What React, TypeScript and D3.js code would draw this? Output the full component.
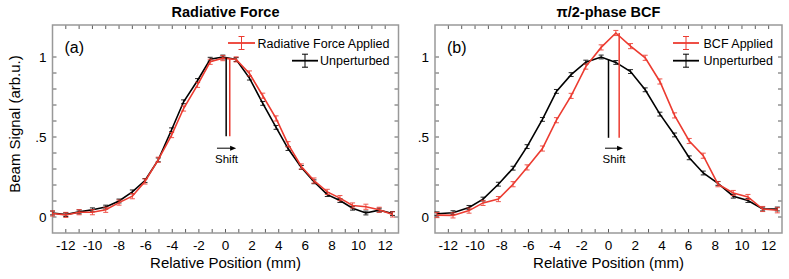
import * as d3 from "d3";

// panel (a): radiative force
const posA = [-13, -12, -11, -10, -9, -8, -7, -6.05, -5.05, -4.05, -3.15, -2.1, -1.15, -0.2, 0.8, 1.8, 2.8, 3.8, 4.7, 5.7, 6.65, 7.65, 8.6, 9.55, 10.55, 11.55, 12.55];
const unpertA = [0.025, 0.015, 0.032, 0.045, 0.062, 0.1, 0.157, 0.228, 0.357, 0.545, 0.72, 0.853, 0.986, 1.0, 0.984, 0.868, 0.71, 0.56, 0.428, 0.31, 0.22, 0.14, 0.103, 0.055, 0.025, 0.043, 0.022];
const appliedA = [0.022, 0.013, 0.03, 0.03, 0.045, 0.09, 0.13, 0.222, 0.358, 0.512, 0.678, 0.826, 0.97, 0.993, 0.985, 0.897, 0.758, 0.616, 0.455, 0.316, 0.228, 0.157, 0.118, 0.072, 0.064, 0.045, 0.016];

// panel (b): pi/2-phase BCF
const posB = [-12.85, -11.65, -10.45, -9.4, -8.25, -7.15, -6.1, -4.95, -3.9, -2.8, -1.7, -0.55, 0.55, 1.65, 2.75, 3.85, 4.95, 6.05, 7.1, 8.2, 9.35, 10.45, 11.55, 12.65];
const unpertB = [0.02, 0.027, 0.06, 0.112, 0.205, 0.305, 0.44, 0.61, 0.785, 0.89, 0.968, 1.0, 0.966, 0.909, 0.795, 0.643, 0.513, 0.37, 0.275, 0.21, 0.13, 0.103, 0.05, 0.05];
const appliedB = [0.012, 0.01, 0.04, 0.088, 0.112, 0.205, 0.31, 0.428, 0.605, 0.757, 0.94, 1.06, 1.15, 1.068, 0.995, 0.847, 0.635, 0.475, 0.383, 0.205, 0.15, 0.125, 0.05, 0.042];

const errUnpert = 0.012;
const errApplied = 0.016;

// centre markers: [x, yTop, yBottom]
const centreA = {black: [0.05, 0.995, 0.505], red: [0.32, 0.99, 0.505]};
const centreB = {black: [0, 0.985, 0.495], red: [0.8, 1.15, 0.495]};
const arrowA = [-0.64, 0.8, 0.43];
const arrowB = [-0.26, 1.09, 0.43];

const xTickLabels = [-12, -10, -8, -6, -4, -2, 0, 2, 4, 6, 8, 10, 12];
const yTickLabels = [{v: 0, t: "0"}, {v: 0.5, t: ".5"}, {v: 1, t: "1"}];

const RED = "#ec3b30";
const FONT = "'Liberation Sans', Arial, sans-serif";

function Panel({left, right, title, tag, appliedLabel, pos, unpert, applied, centre, arrow}) {
    const top = 25, bottom = 233;
    const x = d3.scaleLinear().domain([-13, 13]).range([left, right]);
    const y = d3.scaleLinear().domain([-0.1, 1.2]).range([bottom, top]);
    const line = d3.line().x(d => x(d[0])).y(d => y(d[1]));
    const minor = d3.range(-12, 13, 1);
    const yMinor = d3.range(1, 12).map(i => i / 10 - 0.1).filter(v => v > -0.1 && v < 1.2);
    const cx = (left + right) / 2;

    const series = (vals, color, err, key) => (
        <g key={key}>
            <path d={line(pos.map((p, i) => [p, vals[i]]))} fill="none" stroke={color} strokeWidth={1.6}/>
            {pos.map((p, i) => (
                <g key={i} stroke={color} strokeWidth={1} opacity={0.85}>
                    <line x1={x(p)} x2={x(p)} y1={y(vals[i] - err)} y2={y(vals[i] + err)}/>
                    <line x1={x(p) - 2.5} x2={x(p) + 2.5} y1={y(vals[i] - err)} y2={y(vals[i] - err)}/>
                    <line x1={x(p) - 2.5} x2={x(p) + 2.5} y1={y(vals[i] + err)} y2={y(vals[i] + err)}/>
                </g>
            ))}
        </g>
    );

    const legendItem = (ly, color, label) => {
        const lx = right - 10;
        return (
            <g>
                <text x={lx} y={ly + 5} textAnchor="end" fontSize={12.5}>{label}</text>
            </g>
        );
    };

    return (
        <g fontFamily={FONT}>
            <text x={cx} y={17} textAnchor="middle" fontSize={14.5} fontWeight="bold">{title}</text>
            {/* ticks */}
            <g stroke="#333" strokeWidth={0.8}>
                {minor.map(t => <line key={"b" + t} x1={x(t)} x2={x(t)} y1={bottom} y2={bottom - 4}/>)}
                {minor.map(t => <line key={"t" + t} x1={x(t)} x2={x(t)} y1={top} y2={top + 4}/>)}
                {yMinor.map(v => <line key={"l" + v} x1={left} x2={left + 4} y1={y(v)} y2={y(v)}/>)}
                {yMinor.map(v => <line key={"r" + v} x1={right} x2={right - 4} y1={y(v)} y2={y(v)}/>)}
            </g>
            <rect x={left} y={top} width={right - left} height={bottom - top} fill="none" stroke="#999" strokeWidth={1.5}/>
            {xTickLabels.map(t => (
                <text key={t} x={x(t)} y={250} textAnchor="middle" fontSize={13.5}>{t < 0 ? "-" + Math.abs(t) : t}</text>
            ))}
            {yTickLabels.map(d => (
                <text key={d.t} x={left - 6} y={y(d.v) + 5} textAnchor="end" fontSize={13.5}>{d.t}</text>
            ))}
            <text x={cx} y={268} textAnchor="middle" fontSize={15}>Relative Position (mm)</text>
            <text x={left + 12} y={53} fontSize={16}>{tag}</text>

            {series(unpert, "#000", errUnpert, "u")}
            {series(applied, RED, errApplied, "a")}

            <line x1={x(centre.black[0])} x2={x(centre.black[0])} y1={y(centre.black[1])} y2={y(centre.black[2])} stroke="#000" strokeWidth={1.5}/>
            <line x1={x(centre.red[0])} x2={x(centre.red[0])} y1={y(centre.red[1])} y2={y(centre.red[2])} stroke={RED} strokeWidth={1.5}/>

            <line x1={x(arrow[0])} x2={x(arrow[1]) - 4} y1={y(arrow[2])} y2={y(arrow[2])} stroke="#000" strokeWidth={1}/>
            <polygon points={`${x(arrow[1])},${y(arrow[2])} ${x(arrow[1]) - 6},${y(arrow[2]) - 2.5} ${x(arrow[1]) - 6},${y(arrow[2]) + 2.5}`} fill="#000"/>
            <text x={(x(arrow[0]) + x(arrow[1])) / 2} y={163} textAnchor="middle" fontSize={11.5}>Shift</text>

            {/* legend */}
            {[{ly: 43, color: RED, label: appliedLabel}, {ly: 60.7, color: "#000", label: "Unperturbed"}].map((it, k) => {
                const tx = right - 9;
                const w = it.label.length;
                return (
                    <g key={k}>
                        <text x={tx} y={it.ly + 4.5} textAnchor="end" fontSize={12.5}>{it.label}</text>
                    </g>
                );
            })}
        </g>
    );
}

function LegendLines({x0, x1, color, ly}) {
    const m = (x0 + x1) / 2;
    return (
        <g stroke={color}>
            <line x1={x0} x2={x1} y1={ly} y2={ly} strokeWidth={1.8}/>
            <line x1={m} x2={m} y1={ly - 6.5} y2={ly + 6.5} strokeWidth={1}/>
            <line x1={m - 3} x2={m + 3} y1={ly - 6.5} y2={ly - 6.5} strokeWidth={1}/>
            <line x1={m - 3} x2={m + 3} y1={ly + 6.5} y2={ly + 6.5} strokeWidth={1}/>
        </g>
    );
}

export default function App() {
    return (
        <svg width={789} height={279} style={{position: "absolute", left: 0, top: 0, background: "#fff"}}>
            <Panel left={52.5} right={398.5} title="Radiative Force" tag="(a)" appliedLabel="Radiative Force Applied"
                   pos={posA} unpert={unpertA} applied={appliedA} centre={centreA} arrow={arrowA}/>
            <Panel left={435} right={782} title="π/2-phase BCF" tag="(b)" appliedLabel="BCF Applied"
                   pos={posB} unpert={unpertB} applied={appliedB} centre={centreB} arrow={arrowB}/>
            <LegendLines x0={228} x1={255} color={RED} ly={43}/>
            <LegendLines x0={292} x1={318} color="#000" ly={60.7}/>
            <LegendLines x0={673} x1={699} color={RED} ly={43}/>
            <LegendLines x0={673} x1={699} color="#000" ly={60.7}/>
            <text transform="translate(20,124) rotate(-90)" textAnchor="middle" fontSize={15}
                  fontFamily={FONT}>Beam Signal (arb.u.)</text>
        </svg>
    );
}
